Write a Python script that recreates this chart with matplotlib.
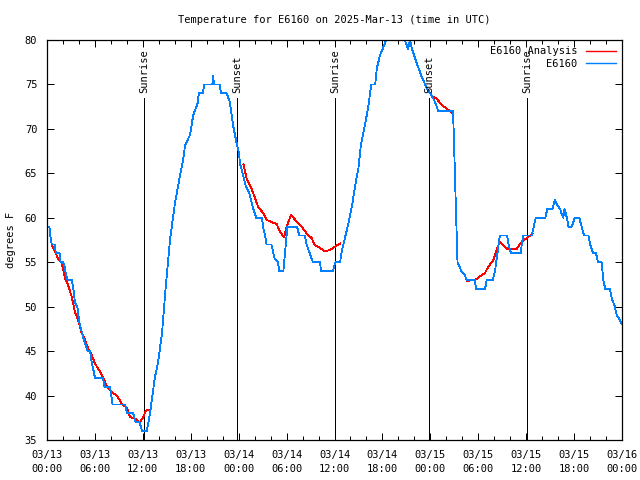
import numpy as np
import matplotlib.pyplot as plt
from matplotlib.ticker import MultipleLocator

# hours since 03/13 00:00 UTC, observed temperature (F)
obs_hours = [0.0, 0.3, 0.4, 0.6, 1.0, 1.1, 1.6, 1.7, 2.0, 2.2, 2.4, 2.6, 3.1, 3.3, 3.5, 3.8,
             4.0, 4.1, 4.4, 4.7, 5.0, 5.1, 5.4, 5.6, 5.9, 6.0, 7.0, 7.2, 7.9, 8.2, 9.8, 10.0,
             10.8, 11.1, 11.6, 11.9, 12.5, 12.9, 13.5, 13.9, 14.4, 14.8, 15.4, 16.0, 16.6, 17.0,
             17.3, 17.9, 18.3, 18.9, 19.0, 19.5, 19.7, 20.7, 20.8, 20.9, 21.6, 21.8, 22.5, 22.9,
             23.3, 23.7, 24.0, 24.2, 24.5, 24.9, 25.3, 25.5, 25.8, 26.2, 26.9, 27.1, 27.3, 27.5,
             28.1, 28.3, 28.5, 28.9, 29.1, 29.6, 29.8, 30.1, 31.3, 31.6, 32.3, 32.5, 32.9, 33.3,
             34.2, 34.3, 35.8, 36.1, 36.7, 36.9, 37.3, 37.7, 38.2, 38.6, 39.0, 39.3, 39.8, 40.2,
             40.6, 41.1, 41.3, 41.7, 42.3, 42.7, 43.2, 44.4, 44.8, 45.2, 45.45, 45.7, 46.3, 46.9,
             47.55, 48.2, 48.6, 49.0, 50.8, 50.9, 51.2, 51.4, 51.9, 52.3, 52.55, 53.6, 53.7, 54.85,
             55.06, 55.8, 56.1, 56.4, 56.7, 57.6, 57.8, 58.1, 59.3, 59.45, 59.65, 60.7, 60.9, 61.2,
             62.4, 62.65, 63.3, 63.6, 63.9, 64.25, 64.45, 64.65, 64.8, 65.1, 65.3, 65.7, 65.9, 66.1,
             66.65, 66.95, 67.25, 67.8, 68.0, 68.4, 68.75, 69.0, 69.45, 69.65, 69.9, 70.5, 70.7,
             71.1, 71.35, 71.75, 72.0]
obs_temps = [59, 59, 58, 57, 57, 56, 56, 55, 55, 54.5, 53.5, 53, 53, 52, 50.5, 50,
             48.5, 48, 47, 46, 45.3, 45, 45, 43.7, 42.5, 42, 42, 41, 41, 39, 39, 38,
             38, 37, 37, 36, 36, 38, 42, 43.7, 47, 51.5, 57.5, 61.5, 64.5, 66.3,
             68.2, 69.3, 71.5, 73, 74, 74, 75, 75, 76, 75, 75, 74, 74, 73,
             70.4, 68.6, 67.4, 66, 65, 63.5, 62.9, 62.2, 61.1, 60, 60, 58.8, 58, 57,
             57, 56.2, 55.4, 55, 54, 54, 56, 59, 59, 58, 58, 57, 56, 55,
             55, 54, 54, 55, 55, 56.2, 57.7, 59.2, 61.4, 63.7, 65.6, 68.2, 70.4, 72.3,
             75, 75, 76.8, 78.3, 79.6, 80.5, 81, 81, 80, 79, 80, 79, 77.4, 75.9,
             74.6, 73.7, 73, 72, 72, 70.4, 61, 55, 54, 53.6, 53, 53, 52, 52,
             53, 53, 54, 56, 58, 58, 57, 56, 56, 57, 58, 58, 58.8, 60,
             60, 61, 61, 62, 61.4, 61, 60.4, 60, 61, 60, 59, 59, 59.5, 60,
             60, 59, 58, 58, 57, 56, 56, 55, 55, 53, 52, 52, 51,
             50, 49, 48.5, 48]

# analysis series (gaps where no analysis)
ana_hours = [0.6, 1.0, 1.4, 1.85, 2.25, 2.65, 3.1, 3.5, 3.9, 4.35, 4.75, 5.15, 5.6, 6.0, 6.65,
             7.05, 7.5, 8.1, 8.75, 9.35, 10.0, 10.4, 11.0, 11.65, 12.05, 12.4, 12.8, np.nan,
             24.6, 25.0, 25.6, 26.05, 26.45, 27.1, 27.5, 28.75, 29.2, 29.7, 30.0, 30.55, 31.25,
             31.9, 32.5, 33.15, 33.55, 34.2, 34.8, 35.45, 36.05, 36.7, np.nan,
             48.45, 48.8, 49.4, 50.05, 50.7, np.nan,
             52.6, 53.6, 54.2, 54.85, 55.25, 55.9, 56.3, 56.7, 57.15, 57.65, 58.8, 59.45, 60.05,
             60.8]
ana_temps = [56.9, 56.2, 55.4, 54.9, 53.2, 52.4, 51.1, 49.4, 48.5, 47, 46.3, 45.3, 44.6, 43.6, 42.7,
             42, 41, 40.4, 40, 39.1, 38.6, 37.6, 37.4, 37, 37.6, 38.3, 38.4, np.nan,
             66, 64.4, 63.3, 62.2, 61.2, 60.5, 59.75, 59.3, 58.4, 57.8, 59, 60.3, 59.6,
             59, 58.25, 57.7, 56.9, 56.6, 56.2, 56.4, 56.75, 57.1, np.nan,
             73.6, 73.4, 72.7, 72.3, 71.8, np.nan,
             52.9, 53, 53.4, 53.8, 54.5, 55.25, 56.4, 57.3, 56.9, 56.5, 56.5, 57.3, 57.7,
             58.2]

sun_hours = [12.15, 23.8, 36.06, 47.83, 60.1]
sun_labels = ['Sunrise', 'Sunset', 'Sunrise', 'Sunset', 'Sunrise']

tick_labels = ['03/13\n00:00', '03/13\n06:00', '03/13\n12:00', '03/13\n18:00',
               '03/14\n00:00', '03/14\n06:00', '03/14\n12:00', '03/14\n18:00',
               '03/15\n00:00', '03/15\n06:00', '03/15\n12:00', '03/15\n18:00',
               '03/16\n00:00']

plt.rcParams['font.family'] = 'DejaVu Sans Mono'
plt.rcParams['font.size'] = 7.5

fig = plt.figure(figsize=(6.4, 4.8), dpi=100)
ax = fig.add_axes([47 / 640, 40 / 480, 575 / 640, 400 / 480])

for h, lab in zip(sun_hours, sun_labels):
    ax.plot([h, h], [35, 73.5], color='black', lw=0.72, antialiased=False)
    ax.text(h, 74.0, lab, rotation=90, ha='center', va='bottom', fontsize=7.5)

ax.plot(ana_hours, ana_temps, color='#ff0000', lw=0.6, antialiased=False, label='E6160 Analysis')
ax.plot(obs_hours, obs_temps, color='#0080ff', lw=0.6, antialiased=False, label='E6160')

ax.set_xlim(0, 72)
ax.set_ylim(35, 80)
ax.set_xticks(np.arange(0, 73, 6))
ax.set_xticklabels(tick_labels, linespacing=1.5)
ax.xaxis.set_minor_locator(MultipleLocator(2))
ax.set_yticks(np.arange(35, 81, 5))
ax.tick_params(direction='in', top=True, right=True, length=5, width=0.72, pad=7)
ax.tick_params(which='minor', direction='in', top=True, length=3, width=0.72)
for s in ax.spines.values():
    s.set_linewidth(0.9)

ax.set_title('Temperature for E6160 on 2025-Mar-13 (time in UTC)', fontsize=7.5, pad=12)
ax.set_ylabel('degrees F', labelpad=6)

leg = ax.legend(loc='upper right', frameon=False, markerfirst=False, handlelength=2.9,
                borderaxespad=0.2, labelspacing=0.25, handletextpad=0.8)
for t in leg.get_texts():
    t.set_ha('right')
for ln in leg.get_lines():
    ln.set_linewidth(1.0)
    ln.set_antialiased(True)

fig.savefig('out.png', dpi=100)
